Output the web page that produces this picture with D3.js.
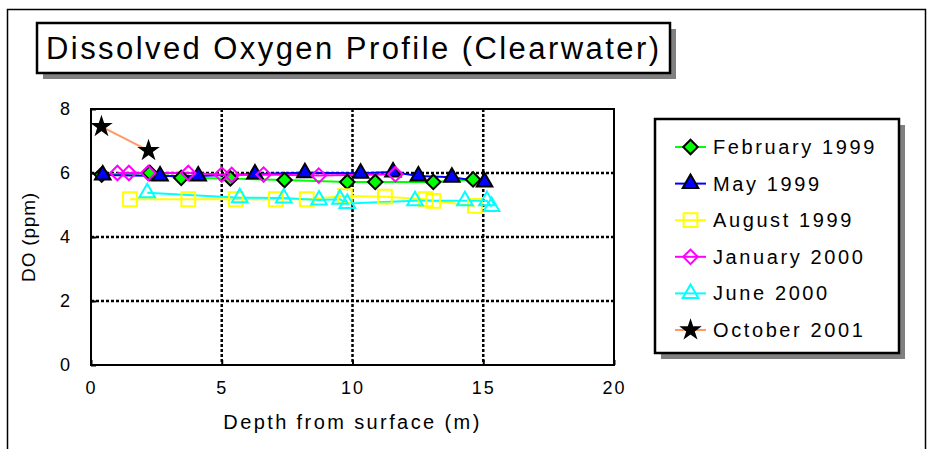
<!DOCTYPE html>
<html>
<head>
<meta charset="utf-8">
<script src="https://cdn.jsdelivr.net/npm/d3@7"></script>
<style>
  body { margin: 0; background: #fff; }
  svg { display: block; font-family: "Liberation Sans", Arial, sans-serif; }
</style>
</head>
<body>
<svg id="chart"></svg>
<script>
const width = 929;
const height = 449;

// series: depth (m) and DO (ppm)
const seriesNames = ["February 1999", "May 1999", "August 1999", "January 2000", "June 2000", "October 2001"];

const febDepth = [0.41, 2.25, 3.45, 5.33, 7.4, 9.8, 10.87, 13.09, 14.61];
const febDO = [5.95, 6.0, 5.85, 5.83, 5.78, 5.72, 5.72, 5.72, 5.8];

const mayDepth = [0.45, 2.64, 4.1, 6.27, 8.18, 10.31, 11.55, 12.52, 13.8, 15.05];
const mayDO = [5.94, 5.91, 5.91, 5.97, 6.01, 5.99, 6.03, 5.91, 5.87, 5.72];

const augDepth = [1.49, 3.72, 5.54, 7.07, 8.25, 9.71, 11.24, 12.8, 13.09, 14.68];
const augDO = [5.18, 5.18, 5.18, 5.18, 5.18, 5.28, 5.26, 5.18, 5.13, 4.97];

const janDepth = [1.01, 1.45, 2.19, 3.72, 5.0, 5.38, 6.6, 8.71, 11.64];
const janDO = [6.0, 6.0, 6.0, 6.0, 5.95, 5.94, 5.95, 5.92, 5.96];

const junDepth = [2.15, 5.69, 7.37, 8.72, 9.52, 9.8, 12.39, 14.3, 15.14, 15.32];
const junDO = [5.38, 5.23, 5.22, 5.16, 5.18, 5.05, 5.13, 5.13, 5.13, 4.95];

const octDepth = [0.4, 2.2];
const octDO = [7.45, 6.7];

const xTicks = [0, 5, 10, 15, 20];
const yTicks = [0, 2, 4, 6, 8];

const depths = [febDepth, mayDepth, augDepth, janDepth, junDepth, octDepth];
const values = [febDO, mayDO, augDO, janDO, junDO, octDO];

// marker styles per series
const styles = [
  { line: "#00ff00", shape: "diamond", fill: "#00ff00", stroke: "#000", size: 105 },
  { line: "#0000ff", shape: "triangle", fill: "#0000ff", stroke: "#000", size: 105 },
  { line: "#ffff00", shape: "square", fill: "none", stroke: "#ffff00", size: 190 },
  { line: "#ff00ff", shape: "diamond", fill: "none", stroke: "#ff00ff", size: 105 },
  { line: "#00ffff", shape: "triangle", fill: "none", stroke: "#00ffff", size: 105 },
  { line: "#ff9966", shape: "star", fill: "#000", stroke: "#000", size: 100 }
];

const series = seriesNames.map((name, i) => ({
  name,
  style: styles[i],
  points: depths[i].map((d, j) => ({ depth: d, value: values[i][j] }))
}));

const svg = d3.select("#chart").attr("width", width).attr("height", height);

// outer frame
svg.append("rect")
  .attr("x", 7.5).attr("y", 9.5)
  .attr("width", 918).attr("height", 460)
  .attr("fill", "none").attr("stroke", "#000").attr("stroke-width", 1.5);

function shadowBox(x, y, w, h) {
  svg.append("rect")
    .attr("x", x + 6).attr("y", y + 6).attr("width", w).attr("height", h)
    .attr("fill", "#808080");
  svg.append("rect")
    .attr("x", x).attr("y", y).attr("width", w).attr("height", h)
    .attr("fill", "#fff").attr("stroke", "#000").attr("stroke-width", 2.5);
}

// title
shadowBox(37, 23, 633, 50);
svg.append("text")
  .attr("x", 46).attr("y", 59)
  .attr("font-size", 31)
  .attr("textLength", 613)
  .attr("lengthAdjust", "spacing")
  .text("Dissolved Oxygen Profile (Clearwater)");

// plot
const plot = { left: 91, right: 614, top: 109, bottom: 365 };

const x = d3.scaleLinear().domain([0, 20]).range([plot.left, plot.right]);
const y = d3.scaleLinear().domain([0, 8]).range([plot.bottom, plot.top]);

const grid = svg.append("g");
grid.selectAll(".gx")
  .data(xTicks.filter((t) => t > 0 && t < 20))
  .enter().append("line")
  .attr("x1", (d) => x(d)).attr("x2", (d) => x(d))
  .attr("y1", plot.top).attr("y2", plot.bottom)
  .attr("stroke", "#000").attr("stroke-width", 2.5).attr("stroke-dasharray", "3,2");
grid.selectAll(".gy")
  .data(yTicks.filter((t) => t > 0 && t < 8))
  .enter().append("line")
  .attr("x1", plot.left).attr("x2", plot.right)
  .attr("y1", (d) => y(d)).attr("y2", (d) => y(d))
  .attr("stroke", "#000").attr("stroke-width", 2.5).attr("stroke-dasharray", "3,2");

svg.append("rect")
  .attr("x", plot.left).attr("y", plot.top)
  .attr("width", plot.right - plot.left).attr("height", plot.bottom - plot.top)
  .attr("fill", "none").attr("stroke", "#000").attr("stroke-width", 2);

// axes with inside ticks
const xAxis = svg.append("g")
  .attr("transform", `translate(0,${plot.bottom})`)
  .call(d3.axisBottom(x).tickValues(xTicks).tickSizeInner(-5).tickSizeOuter(0).tickPadding(16));
const yAxis = svg.append("g")
  .attr("transform", `translate(${plot.left},0)`)
  .call(d3.axisLeft(y).tickValues(yTicks).tickSizeInner(-5).tickSizeOuter(0).tickPadding(19));

[xAxis, yAxis].forEach((a) => {
  a.select(".domain").remove();
  a.selectAll(".tick line").attr("stroke", "#000").attr("stroke-width", 2);
  a.selectAll(".tick text")
    .attr("fill", "#000")
    .attr("font-size", 18)
    .attr("font-family", "'Liberation Sans', Arial, sans-serif")
    .attr("letter-spacing", 2);
});

svg.append("text")
  .attr("x", (plot.left + plot.right) / 2).attr("y", 429)
  .attr("text-anchor", "middle")
  .attr("font-size", 20)
  .attr("letter-spacing", 2.4)
  .text("Depth from surface (m)");

svg.append("text")
  .attr("transform", `translate(35,${(plot.top + plot.bottom) / 2}) rotate(-90)`)
  .attr("text-anchor", "middle")
  .attr("font-size", 19)
  .attr("letter-spacing", 0.8)
  .text("DO (ppm)");

function symbolPath(style) {
  const type = {
    diamond: d3.symbolSquare,
    triangle: d3.symbolTriangle,
    square: d3.symbolSquare,
    star: d3.symbolStar
  }[style.shape];
  return d3.symbol().type(type).size(style.size)();
}

function drawMarker(sel, style) {
  sel.append("path")
    .attr("d", symbolPath(style))
    .attr("transform", style.shape === "diamond" ? "rotate(45)" : null)
    .attr("fill", style.fill)
    .attr("stroke", style.stroke)
    .attr("stroke-width", style.shape === "star" ? 1.5 : 2);
}

const line = d3.line().x((d) => x(d.depth)).y((d) => y(d.value));

series.forEach((s) => {
  svg.append("path")
    .datum(s.points)
    .attr("d", line)
    .attr("fill", "none")
    .attr("stroke", s.style.line)
    .attr("stroke-width", 2);
});

series.forEach((s) => {
  svg.append("g")
    .selectAll("g")
    .data(s.points)
    .enter().append("g")
    .attr("transform", (d) => `translate(${x(d.depth)},${y(d.value)})`)
    .each(function () { drawMarker(d3.select(this), s.style); });
});

// legend
shadowBox(655, 119, 244, 234);
const legend = svg.append("g");
const rowY = d3.scalePoint().domain(seriesNames).range([147, 330]);

seriesNames.forEach((name, i) => {
  const g = legend.append("g").attr("transform", `translate(0,${rowY(name)})`);
  g.append("line")
    .attr("x1", 675).attr("x2", 706)
    .attr("stroke", styles[i].line).attr("stroke-width", 2);
  const m = g.append("g").attr("transform", "translate(690.5,0)");
  drawMarker(m, styles[i]);
  g.append("text")
    .attr("x", 713).attr("y", 7)
    .attr("font-size", 20)
    .attr("letter-spacing", 2.6)
    .text(name);
});
</script>
</body>
</html>
